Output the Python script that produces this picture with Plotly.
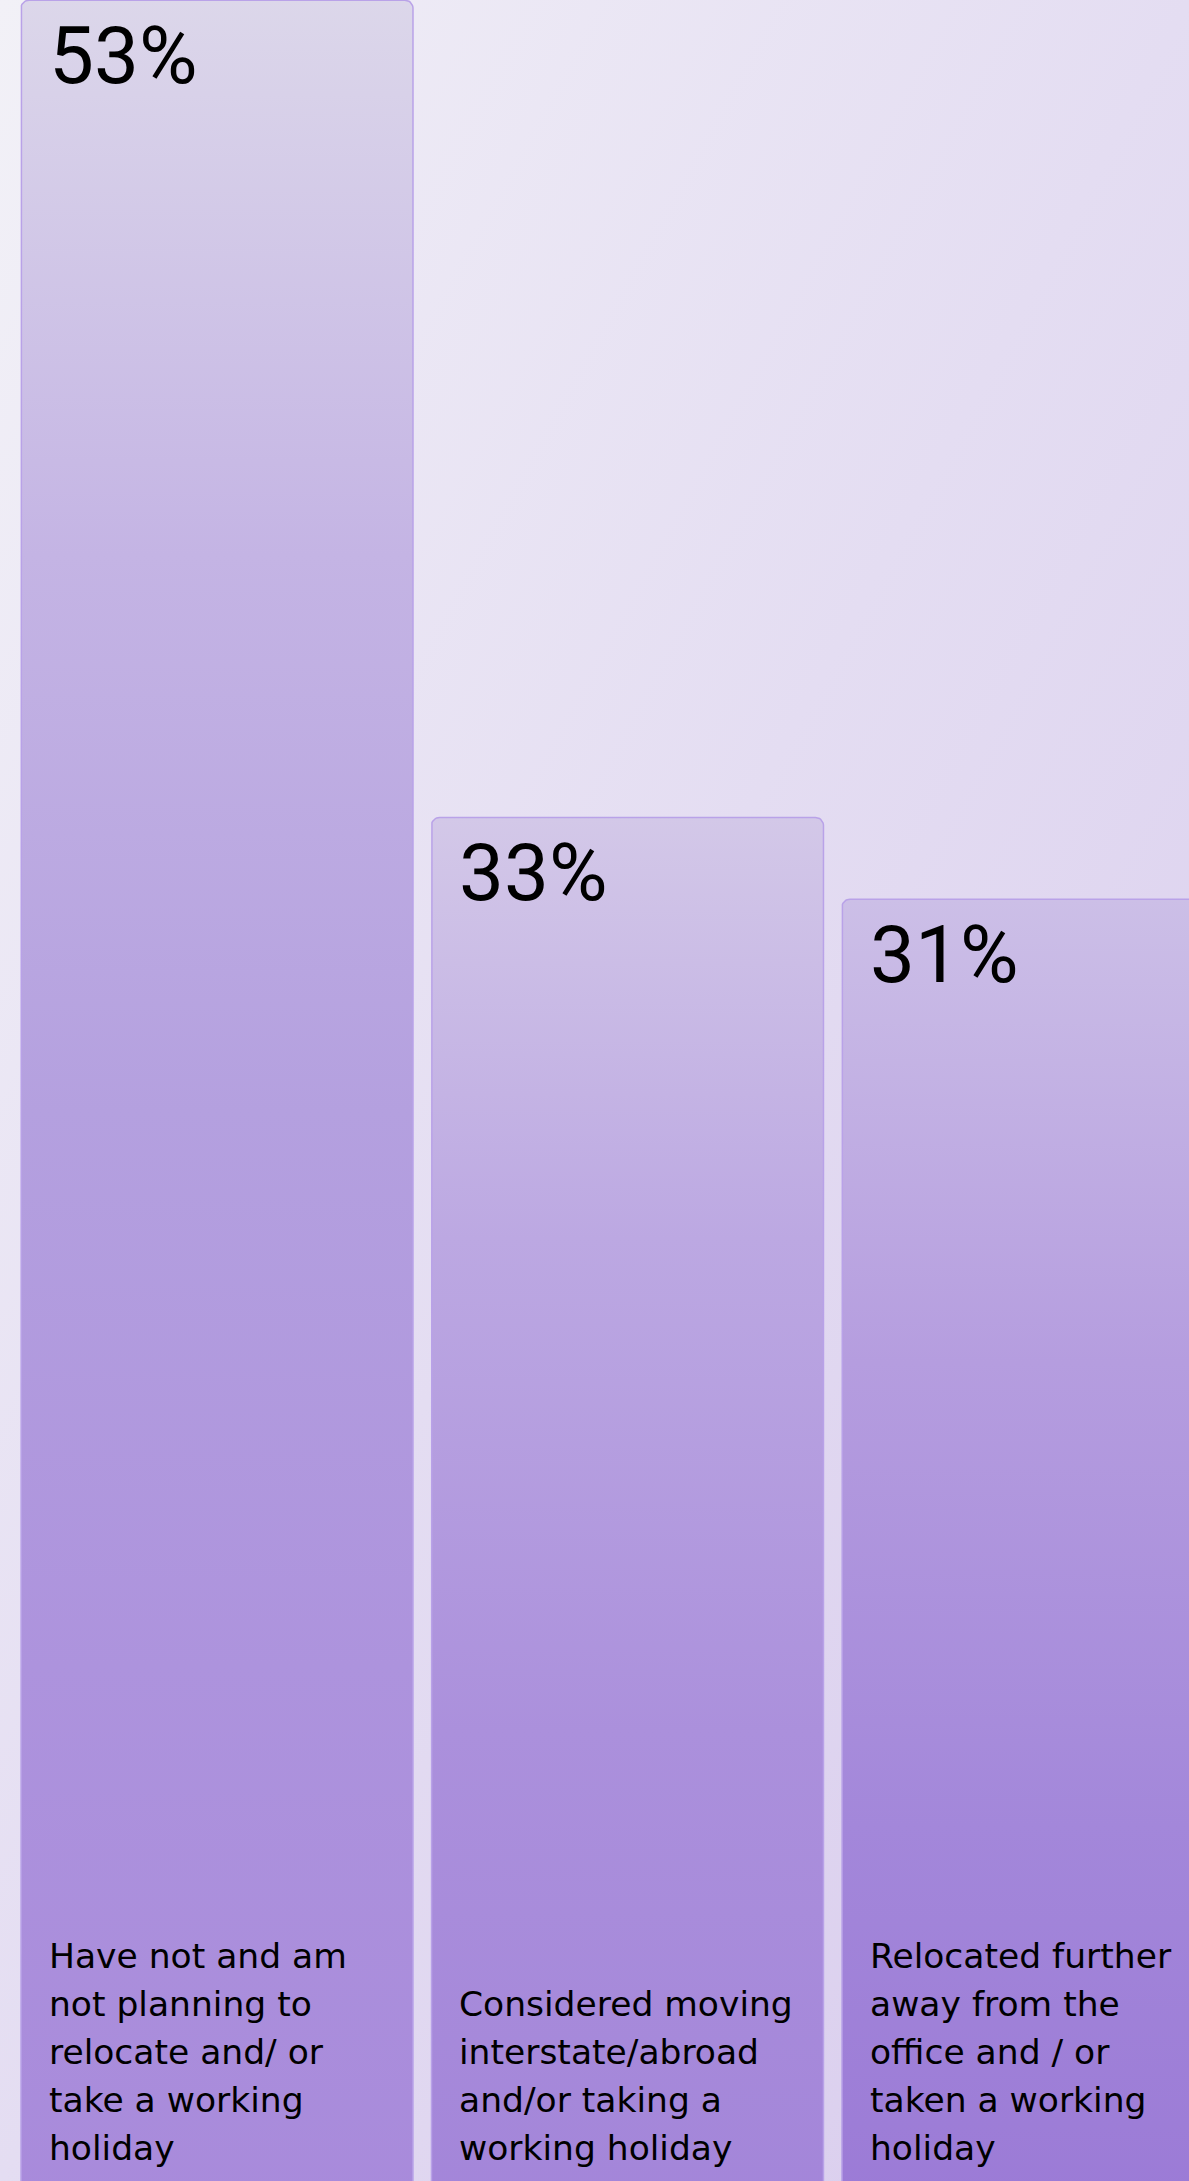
import base64
import math
import plotly.graph_objects as go

# ---------------- data ----------------
categories = [
    "Have not and am not planning to relocate and/ or take a working holiday",
    "Considered moving interstate/abroad and/or taking a working holiday",
    "Relocated further away from the office and / or taken a working holiday",
]
label_lines = [
    ["Have not and am", "not planning to", "relocate and/ or", "take a working", "holiday"],
    ["Considered moving", "interstate/abroad", "and/or taking a", "working holiday"],
    ["Relocated further", "away from the", "office and / or", "taken a working", "holiday"],
]
values = [53, 33, 31]
value_labels = ["53%", "33%", "31%"]

# ---------------- styling ----------------
W, H = 1189, 2181
X_RANGE = [-0.5286, 2.368]
Y_RANGE = [-0.37, 53.005]
BAR_W = 0.955

bar_scales = [
    [[0, "#a88adb"], [0.25, "#ad93dd"], [0.5, "#b4a0df"], [0.75, "#c4b4e4"], [1, "#dcd7ea"]],
    [[0, "#a385d9"], [0.35, "#ab90dc"], [0.7, "#bca8e2"], [1, "#d3c8e8"]],
    [[0, "#9b7ad6"], [0.3, "#a387da"], [0.65, "#b59ddf"], [1, "#ccbfe7"]],
]

px_x = W / (X_RANGE[1] - X_RANGE[0])
px_y = H / (Y_RANGE[1] - Y_RANGE[0])
R = 8
rx, ry = R / px_x, R / px_y
y_floor = Y_RANGE[0] - 1


def bar_path(i, v):
    x0, x1 = i - BAR_W / 2, i + BAR_W / 2
    xs, ys = [x0, x0], [y_floor, v - ry]
    for a in range(180, 89, -10):
        t = math.radians(a)
        xs.append(x0 + rx + rx * math.cos(t)); ys.append(v - ry + ry * math.sin(t))
    for a in range(90, -1, -10):
        t = math.radians(a)
        xs.append(x1 - rx + rx * math.cos(t)); ys.append(v - ry + ry * math.sin(t))
    xs += [x1, x0]
    ys += [y_floor, y_floor]
    return xs, ys


fig = go.Figure()
for i, v in enumerate(values):
    xs, ys = bar_path(i, v)
    fig.add_trace(go.Scatter(
        x=xs, y=ys, mode="lines", fill="toself",
        fillgradient=dict(type="vertical", colorscale=bar_scales[i]),
        line=dict(color="#b9a2e8", width=1.5),
        name=categories[i], hoverinfo="skip", showlegend=False,
    ))

annotations = []
for i, v in enumerate(values):
    annotations.append(dict(
        x=i - BAR_W / 2, xref="x", y=v, yref="y",
        text=value_labels[i], showarrow=False,
        xanchor="left", yanchor="top", xshift=26, yshift=-7,
        font=dict(family="Roboto", size=80, color="#000000"),
    ))
    lines = label_lines[i]
    n = len(lines)
    for j, line in enumerate(lines):
        k = n - 1 - j
        annotations.append(dict(
            x=i - BAR_W / 2, xref="x", y=0, yref="paper",
            text=line, showarrow=False,
            xanchor="left", yanchor="bottom", xshift=26, yshift=11 + k * 48,
            font=dict(family="DejaVu Sans", size=34.5, color="#000000"),
        ))

bg_svg = (
    "<svg xmlns='http://www.w3.org/2000/svg' width='1189' height='2181' preserveAspectRatio='none'>"
    "<defs><linearGradient id='g' x1='0' y1='0' x2='1' y2='1'>"
    "<stop offset='0' stop-color='#f2f1f7'/><stop offset='0.5' stop-color='#e4ddf2'/>"
    "<stop offset='1' stop-color='#d8cbed'/></linearGradient></defs>"
    "<rect width='100%' height='100%' fill='url(#g)'/></svg>"
)
bg_uri = "data:image/svg+xml;base64," + base64.b64encode(bg_svg.encode()).decode()

fig.update_layout(
    width=W, height=H,
    margin=dict(l=0, r=0, t=0, b=0),
    paper_bgcolor="#ebe7f4",
    plot_bgcolor="rgba(0,0,0,0)",
    xaxis=dict(range=X_RANGE, visible=False, fixedrange=True),
    yaxis=dict(range=Y_RANGE, visible=False, fixedrange=True),
    annotations=annotations,
    images=[dict(source=bg_uri, xref="paper", yref="paper", x=0, y=1,
                 sizex=1, sizey=1, sizing="stretch", layer="below",
                 xanchor="left", yanchor="top")],
    showlegend=False,
)

fig.write_html("out.html", config={"displayModeBar": False},
               post_script="document.body.style.margin='0';")
